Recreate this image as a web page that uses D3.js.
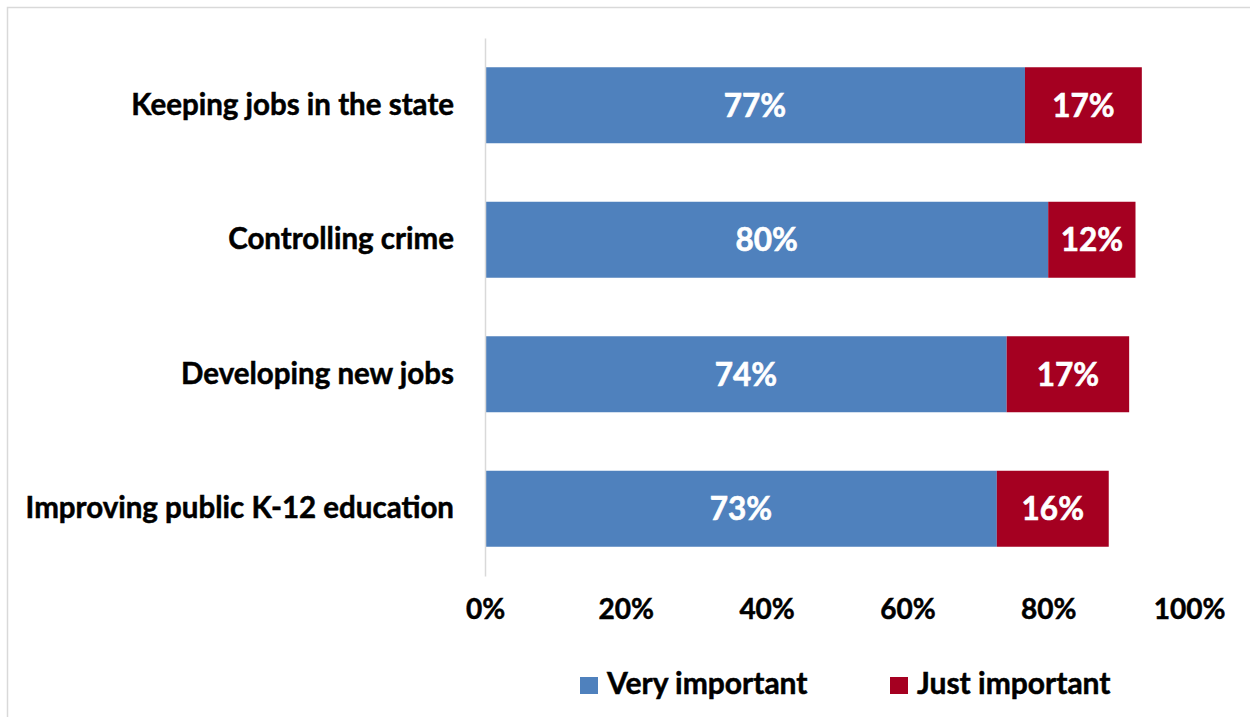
<!DOCTYPE html>
<html>
<head>
  <meta charset="utf-8">
  <title>Importance of issues</title>
  <style>
  body { margin: 0; background: #fff; }
  text { font-family: Lato, "Open Sans", sans-serif; font-weight: bold; }
  </style>
</head>
<body>
<script src="https://cdnjs.cloudflare.com/ajax/libs/d3/7.8.5/d3.min.js"></script>
<script>
// data
var categories = ["Keeping jobs in the state", "Controlling crime", "Developing new jobs", "Improving public K-12 education"];
var veryImportant = [76.7, 80.0, 74.1, 72.7];
var justImportant = [16.6, 12.4, 17.4, 15.9];
var seriesNames = ["Very important", "Just important"];
var tickValues = [0, 20, 40, 60, 80, 100];

var colors = ["#4f81bd", "#a50021"];

var W = 1250, H = 717;
var svg = d3.select("body").append("svg")
    .attr("width", W)
    .attr("height", H);

// chart frame
svg.append("rect")
    .attr("x", 7.5).attr("y", 7.5)
    .attr("width", 1300).attr("height", 800)
    .attr("fill", "none")
    .attr("stroke", "#d9d9d9")
    .attr("stroke-width", 1.5);

var x = d3.scaleLinear().domain([0, 100]).range([485, 1189]);
var y = d3.scaleBand()
    .domain(categories)
    .range([38, 576])
    .paddingInner(0.435)
    .paddingOuter(0.2175);

var rows = categories.map(function(c, i) {
  return {cat: c, v: veryImportant[i], j: justImportant[i]};
});

// bars
var g = svg.append("g");
rows.forEach(function(d) {
  var segs = [
    {x0: 0, x1: d.v, val: d.v, color: colors[0]},
    {x0: d.v, x1: d.v + d.j, val: d.j, color: colors[1]}
  ];
  segs.forEach(function(s) {
    g.append("rect")
        .attr("x", x(s.x0))
        .attr("y", y(d.cat))
        .attr("width", x(s.x1) - x(s.x0))
        .attr("height", y.bandwidth())
        .attr("fill", s.color);
    g.append("text")
        .attr("x", (x(s.x0) + x(s.x1)) / 2)
        .attr("y", y(d.cat) + y.bandwidth() / 2)
        .attr("dy", "0.36em")
        .attr("text-anchor", "middle")
        .attr("fill", "#fff")
        .attr("stroke", "#fff").attr("stroke-width", 0.6)
        .style("font-size", "31.5px")
        .text(Math.round(s.val) + "%");
  });
});

// category axis
var yAxis = svg.append("g")
    .attr("transform", "translate(485,0)")
    .call(d3.axisLeft(y).tickSize(0).tickPadding(31));
yAxis.select(".domain").attr("stroke", "#d9d9d9").attr("stroke-width", 1.5);
yAxis.selectAll("text")
    .attr("fill", "#000")
    .attr("stroke", "#000").attr("stroke-width", 0.5)
    .style("font-size", "29.5px")
    .style("font-family", "Lato, sans-serif")
    .style("font-weight", "bold");

// value axis (labels only)
var xAxis = svg.append("g")
    .attr("transform", "translate(0,593)")
    .call(d3.axisBottom(x).tickValues(tickValues).tickSize(0).tickPadding(6)
      .tickFormat(function(d) { return d + "%"; }));
xAxis.select(".domain").remove();
xAxis.selectAll("text")
    .attr("fill", "#000")
    .attr("stroke", "#000").attr("stroke-width", 0.5)
    .style("font-size", "28px")
    .style("font-family", "Lato, sans-serif")
    .style("font-weight", "bold");

// legend
var legendX = [580, 890];
var legend = svg.append("g");
seriesNames.forEach(function(name, i) {
  legend.append("rect")
      .attr("x", legendX[i]).attr("y", 677)
      .attr("width", 18).attr("height", 17)
      .attr("fill", colors[i]);
  legend.append("text")
      .attr("x", legendX[i] + 27)
      .attr("y", 694)
      .style("font-size", "30px")
      .attr("fill", "#000")
      .attr("stroke", "#000").attr("stroke-width", 0.5)
      .text(name);
});
</script>
</body>
</html>
